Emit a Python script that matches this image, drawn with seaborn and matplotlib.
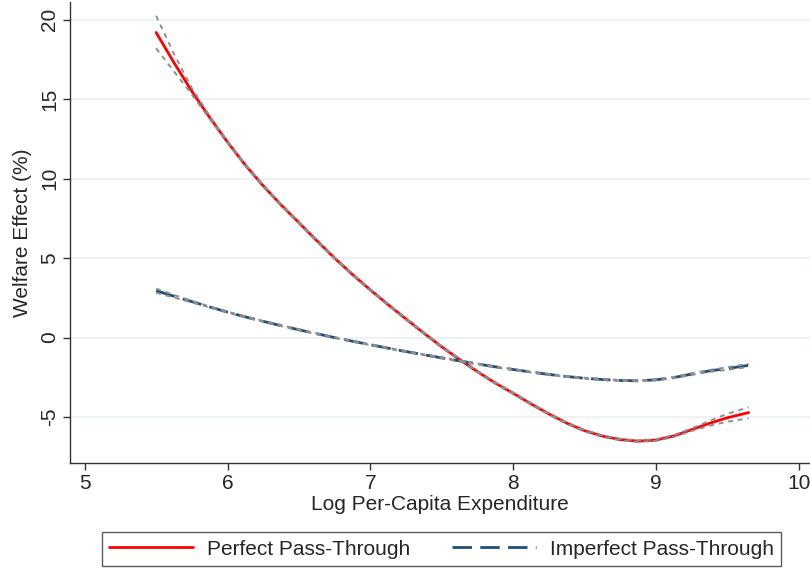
import numpy as np
import pandas as pd
import matplotlib
matplotlib.use("Agg")
import matplotlib.pyplot as plt
import seaborn as sns

# Données
log_exp = [5.5, 5.625, 5.75, 5.875, 6.0, 6.125, 6.25, 6.375, 6.5, 6.625, 6.75, 6.875,
           7.0, 7.125, 7.25, 7.375, 7.5, 7.625, 7.75, 7.875, 8.0, 8.125, 8.25, 8.375,
           8.5, 8.625, 8.75, 8.875, 9.0, 9.125, 9.25, 9.375, 9.5, 9.65]

perfect = [19.2, 17.3, 15.5, 13.85, 12.3, 10.85, 9.55, 8.35, 7.23, 6.1,
           5.0, 3.97, 3.0, 2.07, 1.17, 0.28, -0.58, -1.38, -2.14, -2.86,
           -3.5, -4.17, -4.8, -5.38, -5.86, -6.2, -6.42, -6.52, -6.45, -6.2,
           -5.8, -5.4, -5.05, -4.72]
perfect_hi = [20.25, 17.85, 15.7, 13.95, 12.35, 10.9, 9.6, 8.4, 7.28, 6.15,
              5.05, 4.02, 3.05, 2.12, 1.22, 0.33, -0.53, -1.33, -2.09, -2.81,
              -3.45, -4.12, -4.75, -5.33, -5.81, -6.15, -6.37, -6.47, -6.4, -6.14,
              -5.72, -5.25, -4.8, -4.39]
perfect_lo = [18.2, 16.75, 15.3, 13.75, 12.25, 10.8, 9.5, 8.3, 7.18, 6.05,
              4.95, 3.92, 2.95, 2.02, 1.12, 0.23, -0.63, -1.43, -2.19, -2.91,
              -3.55, -4.22, -4.85, -5.43, -5.91, -6.25, -6.47, -6.57, -6.5, -6.26,
              -5.88, -5.55, -5.3, -5.08]

imperfect = [2.95, 2.6, 2.26, 1.93, 1.6, 1.3, 1.02, 0.75, 0.49, 0.24,
             0.0, -0.23, -0.45, -0.67, -0.88, -1.08, -1.28, -1.47, -1.66, -1.84,
             -2.01, -2.17, -2.32, -2.45, -2.56, -2.64, -2.7, -2.72, -2.66, -2.52,
             -2.3, -2.1, -1.95, -1.75]
imperfect_hi = [3.08, 2.68, 2.31, 1.96, 1.63, 1.33, 1.05, 0.78, 0.52, 0.27,
                0.03, -0.2, -0.42, -0.64, -0.85, -1.05, -1.25, -1.44, -1.63, -1.81,
                -1.98, -2.14, -2.29, -2.42, -2.53, -2.61, -2.67, -2.69, -2.63, -2.48,
                -2.25, -2.04, -1.87, -1.65]
imperfect_lo = [2.82, 2.52, 2.21, 1.9, 1.57, 1.27, 0.99, 0.72, 0.46, 0.21,
                -0.03, -0.26, -0.48, -0.7, -0.91, -1.11, -1.31, -1.5, -1.69, -1.87,
                -2.04, -2.2, -2.35, -2.48, -2.59, -2.67, -2.73, -2.75, -2.69, -2.56,
                -2.35, -2.16, -2.03, -1.85]

xticks = [5, 6, 7, 8, 9, 10]
yticks = [-5, 0, 5, 10, 15, 20]

df = pd.DataFrame({
    "x": log_exp * 2,
    "y": perfect + imperfect,
    "serie": ["Perfect Pass-Through"] * len(log_exp) + ["Imperfect Pass-Through"] * len(log_exp),
})

sns.set_style("white")
plt.rcParams["font.family"] = ["Liberation Sans", "DejaVu Sans"]
plt.rcParams["axes.unicode_minus"] = False

fig = plt.figure(figsize=(8.1, 5.71), dpi=100)
ax = fig.add_axes([0.087, 0.189, 0.913, 0.807])

# Grille horizontale
for t in yticks:
    ax.axhline(t, color="#eaf0f2", lw=1.2, zorder=0)

red = "#ff0000"
navy = "#1f4e79"
gray = "#8e8e8e"

sns.lineplot(data=df[df.serie == "Perfect Pass-Through"], x="x", y="y", color=red,
             lw=2, ax=ax, label="Perfect Pass-Through", zorder=3)
sns.lineplot(data=df[df.serie == "Imperfect Pass-Through"], x="x", y="y", color=navy,
             lw=2, ax=ax, label="Imperfect Pass-Through", zorder=3)
ax.lines[-1].set_dashes([7, 3])

# Intervalles de confiance
for ci in [perfect_hi, perfect_lo, imperfect_hi, imperfect_lo]:
    ax.plot(log_exp, ci, color=gray, lw=1.4, dashes=[2.5, 2.5], zorder=4)

ax.set_xlim(4.9, 10.08)
ax.set_ylim(-7.9, 21.1)
ax.set_xticks(xticks)
ax.set_yticks(yticks)
ax.tick_params(axis="both", direction="out", length=5, width=1, color="#333333",
               labelsize=15, bottom=True, left=True, pad=3)
for lab in ax.get_yticklabels():
    lab.set_rotation(90)
    lab.set_va("center")
ax.set_xlabel("Log Per-Capita Expenditure", fontsize=15, labelpad=1)
ax.set_ylabel("Welfare Effect (%)", fontsize=15, labelpad=6)

sns.despine(ax=ax)
for s in ["left", "bottom"]:
    ax.spines[s].set_color("#333333")
    ax.spines[s].set_linewidth(1)

leg = ax.legend(loc="upper center", bbox_to_anchor=(0.502, -0.128), ncol=2, fontsize=15,
                frameon=True, fancybox=False, edgecolor="#333333", handlelength=4,
                handletextpad=0.7, columnspacing=2, borderpad=0.35)
leg.get_frame().set_linewidth(1)

fig.savefig("out.png", dpi=100)
